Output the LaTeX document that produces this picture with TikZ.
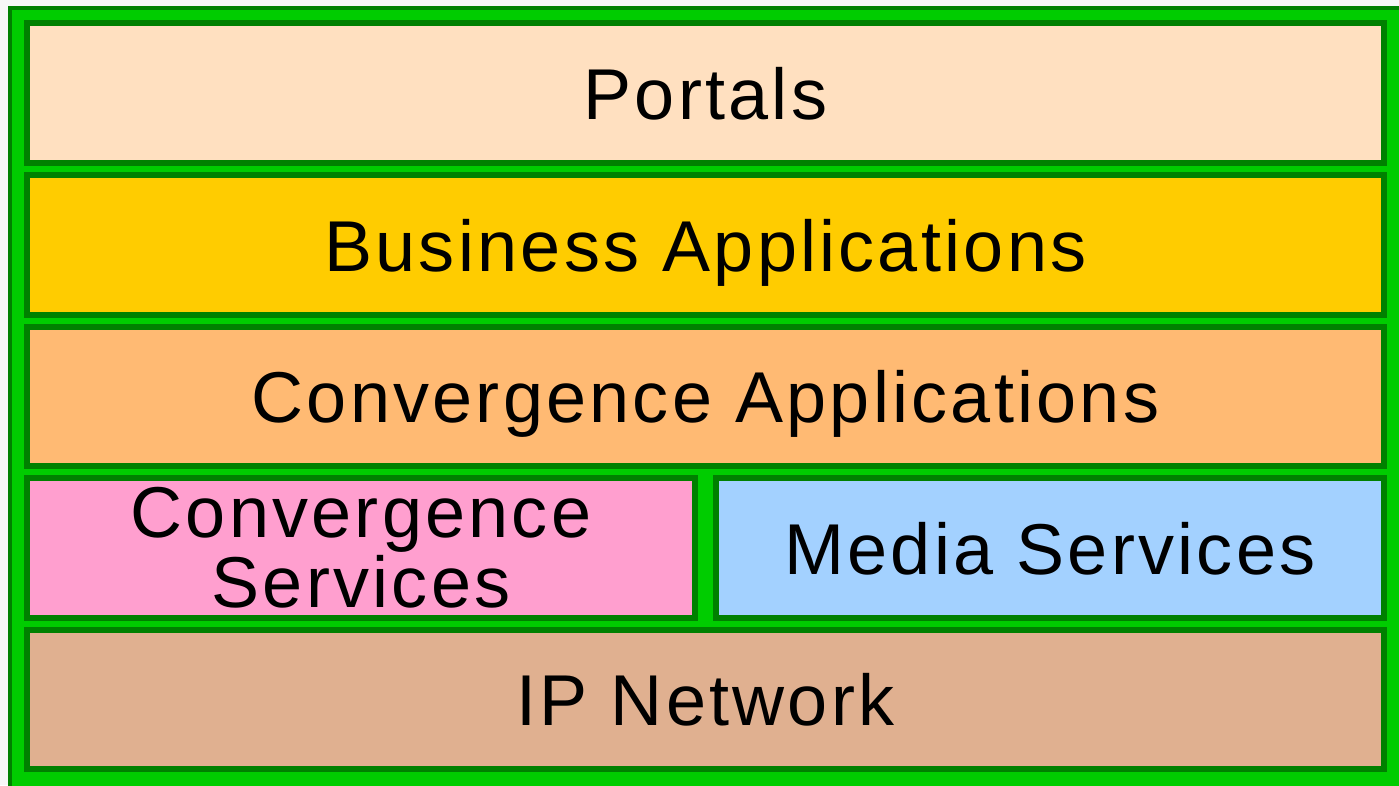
\documentclass[tikz,border=0pt]{standalone}
\usepackage{fontspec}
\newfontfamily\layerfont{Liberation Sans}[LetterSpace=4.5]
\definecolor{outergreen}{HTML}{00CC00}
\definecolor{edgegreen}{HTML}{008000}
\definecolor{portalcol}{HTML}{FFE0C0}
\definecolor{businesscol}{HTML}{FFCC00}
\definecolor{convappcol}{HTML}{FFBA73}
\definecolor{convsvccol}{HTML}{FF9FCF}
\definecolor{mediacol}{HTML}{A3D1FF}
\definecolor{ipcol}{HTML}{E0B090}
\tikzset{
  layer/.style={draw=edgegreen, line width=6pt, rectangle, inner sep=0pt,
    font=\layerfont\fontsize{72}{70}\selectfont, text=black},
  onerow/.style={text height=52pt, text depth=0pt}
}
\begin{document}
\begin{tikzpicture}[x=1pt,y=-1pt]

\fill[white!97!black] (0,0) rectangle (1399,785);
\useasboundingbox (0,0) rectangle (1399,785);
\draw[fill=outergreen, draw=edgegreen, line width=4pt] (10,8) rectangle (1403,789);
\node[layer, onerow, fill=portalcol, minimum width=1357pt, minimum height=140pt] (portals) at (705.5,93) {Portals};
\node[layer, onerow, fill=businesscol, minimum width=1357pt, minimum height=140pt] (business) at (705.5,245) {Business Applications};
\node[layer, onerow, fill=convappcol, minimum width=1357pt, minimum height=139pt] (convapps) at (705.5,396.5) {Convergence Applications};
\node[layer, fill=convsvccol, minimum width=668pt, minimum height=140pt, align=center] (convsvc) at (361,548) {Convergence\\Services};
\node[layer, onerow, fill=mediacol, minimum width=668pt, minimum height=140pt] (media) at (1050,548) {Media Services};
\node[layer, onerow, fill=ipcol, minimum width=1357pt, minimum height=139pt] (ipnet) at (705.5,699.5) {IP Network};
\end{tikzpicture}
\end{document}
